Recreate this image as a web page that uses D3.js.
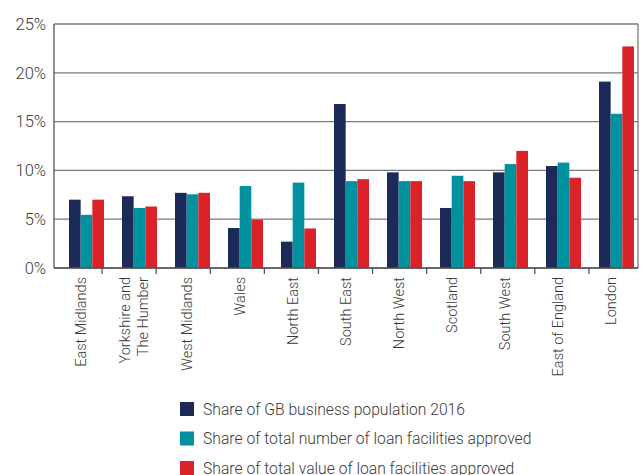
<!DOCTYPE html>
<html>
<head>
<meta charset="utf-8">
<script src="https://cdn.jsdelivr.net/npm/d3@7"></script>
<style>
  body { margin: 0; background: #fff; }
  text { font-family: Roboto, sans-serif; font-weight: 300; fill: #3a3a3a; }
</style>
</head>
<body>
<svg width="643" height="475"></svg>
<script>
// data
var regions = ['East Midlands', 'Yorkshire and\nThe Humber', 'West Midlands', 'Wales', 'North East',
    'South East', 'North West', 'Scotland', 'South West', 'East of England', 'London'];
var population = [7.0, 7.35, 7.7, 4.1, 2.7, 16.8, 9.8, 6.15, 9.8, 10.45, 19.1];
var loanNumber = [5.45, 6.15, 7.55, 8.4, 8.75, 8.9, 8.9, 9.45, 10.65, 10.8, 15.8];
var loanValue = [7.0, 6.3, 7.7, 4.95, 4.05, 9.1, 8.9, 8.9, 12.0, 9.25, 22.7];
var seriesNames = ['Share of GB business population 2016',
    'Share of total number of loan facilities approved',
    'Share of total value of loan facilities approved'];
var yTicks = [0, 5, 10, 15, 20, 25];

var colors = ['#1c2a57', '#00929f', '#dc2229'];
var seriesValues = [population, loanNumber, loanValue];

var plotLeft = 54, plotRight = 638, plotTop = 24, plotBottom = 268;
var fontFamily = 'Roboto, sans-serif';

var svg = d3.select('svg');

var x0 = d3.scaleBand()
    .domain(regions)
    .range([plotLeft, 637]);

var x1 = d3.scaleBand()
    .domain([0, 1, 2])
    .range([15, 50]);

// tick marks under the axis sit on a slightly wider grid
var xTick = d3.scaleBand()
    .domain(regions)
    .range([48, 643]);

var y = d3.scaleLinear()
    .domain([0, 25])
    .range([plotBottom, plotTop]);

// grid lines
svg.append('g')
    .selectAll('line')
    .data(yTicks)
    .enter()
    .append('line')
    .attr('x1', plotLeft)
    .attr('x2', plotRight)
    .attr('y1', function (d) { return y(d); })
    .attr('y2', function (d) { return y(d); })
    .attr('stroke', '#7a7a7a')
    .attr('stroke-width', 1.3);

// frame sides
svg.append('line')
    .attr('x1', plotLeft).attr('x2', plotLeft)
    .attr('y1', y(25)).attr('y2', y(0))
    .attr('stroke', '#555').attr('stroke-width', 1.3);
svg.append('line')
    .attr('x1', plotRight).attr('x2', plotRight)
    .attr('y1', y(25)).attr('y2', y(0))
    .attr('stroke', '#7a7a7a').attr('stroke-width', 1.3);

// y axis labels
var y_axis = d3.axisLeft(y)
    .tickValues(yTicks)
    .tickFormat(function (d) { return d + '%'; })
    .tickSize(0)
    .tickPadding(8);

var yg = svg.append('g')
    .attr('transform', 'translate(' + plotLeft + ',0)')
    .call(y_axis);
yg.select('.domain').remove();
yg.selectAll('text')
    .style('font-family', fontFamily)
    .style('font-weight', 300)
    .style('font-size', '16.5px')
    .attr('fill', '#444');

// bars
var groups = svg.append('g')
    .selectAll('g')
    .data(regions)
    .enter()
    .append('g')
    .attr('transform', function (d) {
        return 'translate(' + x0(d) + ',0)';
    });

groups.selectAll('rect')
    .data(function (d, i) {
        return seriesValues.map(function (s, k) {
            return {k: k, value: s[i]};
        });
    })
    .enter()
    .append('rect')
    .attr('x', function (d) { return x1(d.k); })
    .attr('width', x1.bandwidth())
    .attr('y', function (d) { return y(d.value); })
    .attr('height', function (d) { return y(0) - y(d.value); })
    .attr('fill', function (d) { return colors[d.k]; });

// baseline
svg.append('line')
    .attr('x1', plotLeft).attr('x2', plotRight)
    .attr('y1', y(0)).attr('y2', y(0))
    .attr('stroke', '#555').attr('stroke-width', 1.3);

// small ticks below the baseline
svg.append('g')
    .selectAll('line')
    .data(regions.slice(1))
    .enter()
    .append('line')
    .attr('x1', function (d) { return xTick(d); })
    .attr('x2', function (d) { return xTick(d); })
    .attr('y1', y(0))
    .attr('y2', y(0) + 6)
    .attr('stroke', '#555')
    .attr('stroke-width', 1.3);

// category labels, rotated
var labels = svg.append('g')
    .selectAll('text')
    .data(regions)
    .enter()
    .append('text')
    .attr('transform', function (d) {
        var lines = d.split('\n');
        var cx = x0(d) + x0.bandwidth() / 2 + 5 - (lines.length - 1) * 9;
        return 'translate(' + cx + ',' + (y(0) + 9) + ') rotate(-90)';
    })
    .attr('text-anchor', 'end')
    .style('font-size', '14.5px');

labels.selectAll('tspan')
    .data(function (d) { return d.split('\n'); })
    .enter()
    .append('tspan')
    .attr('x', 0)
    .attr('dy', function (d, i) { return i === 0 ? 0 : 18; })
    .text(function (d) { return d; });

// legend
var legend = svg.append('g')
    .selectAll('g')
    .data(seriesNames)
    .enter()
    .append('g')
    .attr('transform', function (d, i) {
        return 'translate(180,' + (402 + i * 29.5) + ')';
    });

legend.append('rect')
    .attr('width', 14)
    .attr('height', 14)
    .attr('fill', function (d, i) { return colors[i]; });

legend.append('text')
    .attr('x', 23)
    .attr('y', 7)
    .attr('dy', '0.36em')
    .style('font-size', '15.7px')
    .text(function (d) { return d; });
</script>
</body>
</html>
